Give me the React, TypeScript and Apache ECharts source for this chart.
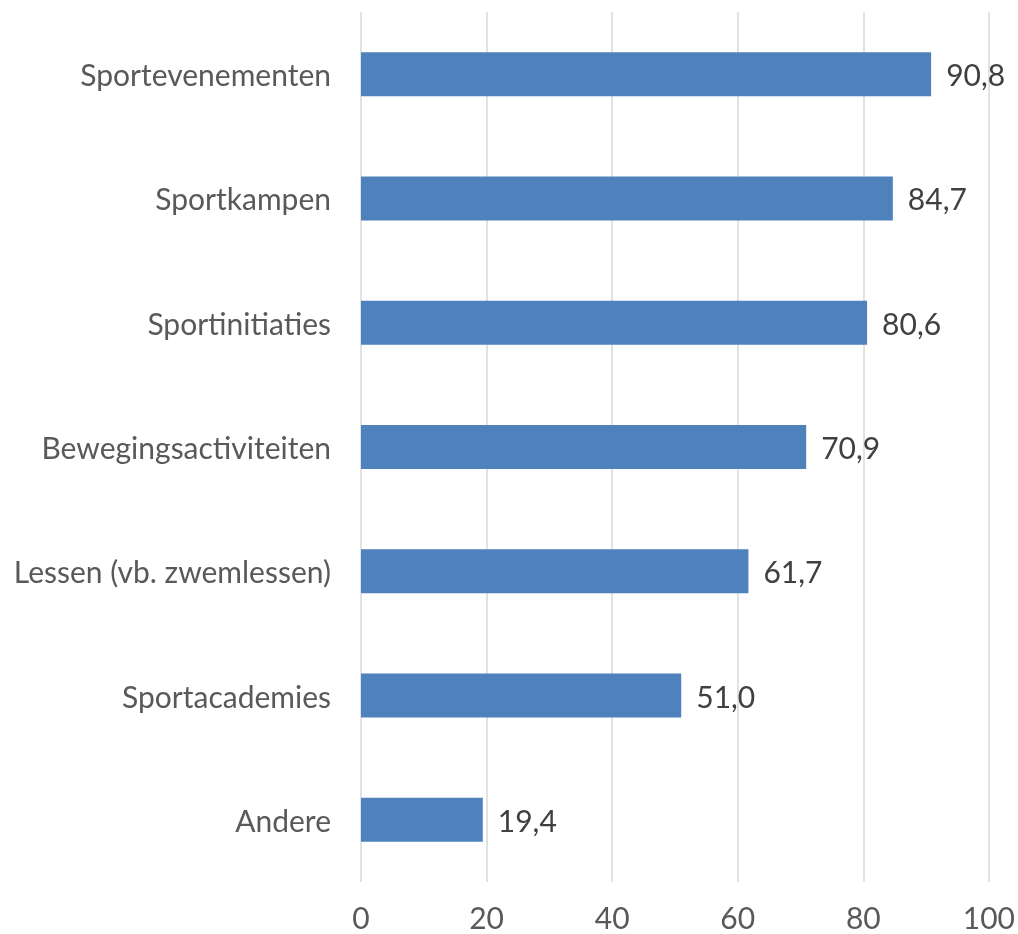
import React, { useEffect, useRef } from "react";
import * as echarts from "echarts";

const categories = [
  "Andere",
  "Sportacademies",
  "Lessen (vb. zwemlessen)",
  "Bewegingsactiviteiten",
  "Sportinitiaties",
  "Sportkampen",
  "Sportevenementen",
];
const values = [19.4, 51.0, 61.7, 70.9, 80.6, 84.7, 90.8];
const xTicks = [0, 20, 40, 60, 80, 100];

export default function App() {
  const ref = useRef<HTMLDivElement>(null);
  useEffect(() => {
    if (!ref.current) return;
    const chart = echarts.init(ref.current, undefined, { renderer: "svg" });
    const font = "Lato, 'Open Sans', sans-serif";
    chart.setOption({
      animation: false,
      grid: { left: 361, right: 27, top: 12, bottom: 52, containLabel: false },
      xAxis: {
        type: "value",
        min: xTicks[0],
        max: xTicks[xTicks.length - 1],
        interval: 20,
        axisLine: { show: false },
        axisTick: { show: false },
        splitLine: { show: true, lineStyle: { color: "#d9d9d9", width: 1.5 } },
        axisLabel: { color: "#595959", fontSize: 30, fontFamily: font, margin: 20 },
      },
      yAxis: {
        type: "category",
        data: categories,
        axisLine: { show: false },
        axisTick: { show: false },
        axisLabel: { color: "#595959", fontSize: 30, fontFamily: font, margin: 30 },
      },
      series: [
        {
          type: "bar",
          data: values,
          barWidth: 44,
          itemStyle: { color: "#4f81bd" },
          label: {
            show: true,
            position: "right",
            distance: 15,
            color: "#404040",
            fontSize: 30,
            fontFamily: font,
            formatter: (p: any) => p.value.toFixed(1).replace(".", ","),
          },
        },
      ],
    });
    return () => chart.dispose();
  }, []);
  return (
    <div
      ref={ref}
      style={{ position: "fixed", left: 0, top: 0, width: 1018, height: 934, overflow: "hidden" }}
    />
  );
}
